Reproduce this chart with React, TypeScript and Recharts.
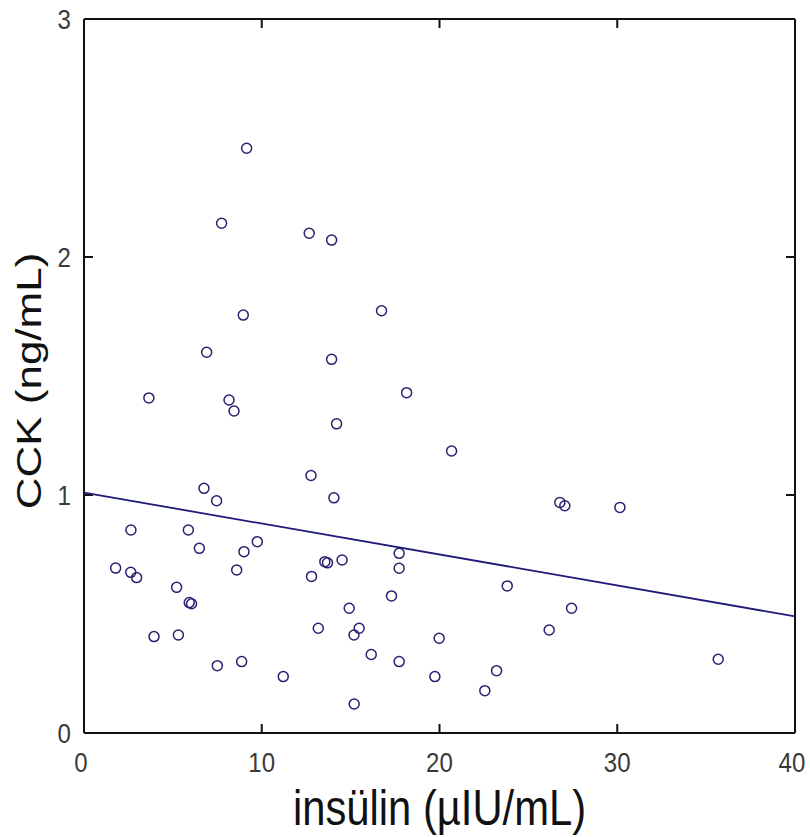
import React from 'react';
import { ScatterChart, Scatter, XAxis, YAxis, ReferenceLine } from 'recharts';

// insulin (x) and CCK (y) for each subject
const insulin = [
  9.15, 7.74, 12.67, 13.93, 8.96, 16.74, 6.9, 13.93, 3.65, 8.16,
  8.44, 18.15, 14.21, 20.68, 6.75, 7.46, 12.77, 14.06, 26.77, 27.05,
  30.15, 2.64, 5.87, 6.49, 9.75, 9.0, 8.59, 1.78, 2.63, 2.96,
  5.21, 5.92, 6.05, 13.55, 13.7, 14.52, 12.8, 17.73, 17.73, 17.3,
  23.81, 14.92, 27.43, 26.17, 13.18, 15.48, 15.19, 16.16, 3.94, 5.31,
  7.5, 8.87, 11.21, 15.2, 17.73, 19.98, 19.74, 23.21, 22.55, 35.68,
];
const cck = [
  2.457, 2.142, 2.1, 2.071, 1.756, 1.774, 1.6, 1.57, 1.408, 1.399,
  1.353, 1.43, 1.299, 1.185, 1.028, 0.976, 1.082, 0.988, 0.969, 0.955,
  0.948, 0.853, 0.853, 0.776, 0.804, 0.762, 0.685, 0.693, 0.675, 0.653,
  0.612, 0.548, 0.543, 0.72, 0.715, 0.727, 0.658, 0.755, 0.692, 0.576,
  0.618, 0.524, 0.524, 0.433, 0.44, 0.44, 0.412, 0.33, 0.405, 0.412,
  0.283, 0.3, 0.237, 0.122, 0.3, 0.398, 0.237, 0.262, 0.178, 0.31,
];

// regression line end points
const fitX = [0, 40];
const fitY = [1.01, 0.49];

const xTicks = [0, 10, 20, 30, 40];
const yTicks = [0, 1, 2, 3];

const W = 810;
const H = 837;
const M = { top: 19, right: 15, bottom: 104, left: 84 };
const PLOT_W = W - M.left - M.right;
const PLOT_H = H - M.top - M.bottom;
const TICK = 9;

const X0 = xTicks[0];
const X1 = xTicks[xTicks.length - 1];
const Y0 = yTicks[0];
const Y1 = yTicks[yTicks.length - 1];
// inward tick length in data units
const TX = (TICK * (X1 - X0)) / PLOT_W;
const TY = (TICK * (Y1 - Y0)) / PLOT_H;

const INK = '#2a2070';
const FONT = 'Liberation Sans, Arial, sans-serif';

const points = insulin.map((x, i) => ({ x, y: cck[i] }));

const Ring = (props: any) => {
  const { cx, cy } = props;
  return <circle cx={cx} cy={cy} r={5} fill="none" stroke={INK} strokeWidth={1.5} />;
};

const XTick = (props: any) => {
  const { x, y, payload } = props;
  const v = payload.value;
  return (
    <text
      transform={`translate(${x - (v === X1 || v === X0 ? 3 : 0)},${y + 39}) scale(0.86,1)`}
      textAnchor="middle"
      fontSize={28}
      fontFamily={FONT}
      fill="#3a3a3a"
    >
      {v}
    </text>
  );
};

const YTick = (props: any) => {
  const { x, y, payload } = props;
  return (
    <text
      transform={`translate(${x - 13},${y + 10}) scale(0.86,1)`}
      textAnchor="end"
      fontSize={28}
      fontFamily={FONT}
      fill="#3a3a3a"
    >
      {payload.value}
    </text>
  );
};

const frame = { stroke: '#111', strokeWidth: 2, ifOverflow: 'visible' as const };

const App: React.FC = () => {
  return (
    <div style={{ position: 'absolute', left: 0, top: 0, width: W, height: H, background: '#fff' }}>
      <ScatterChart width={W} height={H} margin={{ top: M.top, right: M.right, bottom: 0, left: 0 }}>
        <XAxis
          type="number"
          dataKey="x"
          domain={[X0, X1]}
          ticks={xTicks}
          interval={0}
          height={M.bottom}
          axisLine={false}
          tickLine={false}
          tickSize={0}
          tickMargin={0}
          tick={<XTick />}
        />
        <YAxis
          type="number"
          dataKey="y"
          domain={[Y0, Y1]}
          ticks={yTicks}
          interval={0}
          width={M.left}
          axisLine={false}
          tickLine={false}
          tickSize={0}
          tickMargin={0}
          tick={<YTick />}
        />
        <ReferenceLine x={X0} {...frame} />
        <ReferenceLine x={X1} {...frame} />
        <ReferenceLine y={Y0} {...frame} />
        <ReferenceLine y={Y1} {...frame} />
        {xTicks.slice(1, -1).map((t) => (
          <ReferenceLine key={`xb${t}`} segment={[{ x: t, y: Y0 }, { x: t, y: Y0 + TY }]} {...frame} />
        ))}
        {xTicks.slice(1, -1).map((t) => (
          <ReferenceLine key={`xt${t}`} segment={[{ x: t, y: Y1 }, { x: t, y: Y1 - TY }]} {...frame} />
        ))}
        {yTicks.slice(1, -1).map((t) => (
          <ReferenceLine key={`yl${t}`} segment={[{ x: X0, y: t }, { x: X0 + TX, y: t }]} {...frame} />
        ))}
        {yTicks.slice(1, -1).map((t) => (
          <ReferenceLine key={`yr${t}`} segment={[{ x: X1, y: t }, { x: X1 - TX, y: t }]} {...frame} />
        ))}
        <ReferenceLine
          segment={[{ x: fitX[0], y: fitY[0] }, { x: fitX[1], y: fitY[1] }]}
          stroke="#1e1a78"
          strokeWidth={1.8}
          ifOverflow="visible"
        />
        <Scatter data={points} shape={<Ring />} isAnimationActive={false} />
      </ScatterChart>
      <svg width={W} height={H} style={{ position: 'absolute', left: 0, top: 0, pointerEvents: 'none' }}>
        <text
          transform={`translate(${M.left + PLOT_W / 2},825) scale(0.835,1)`}
          textAnchor="middle"
          fontSize={50}
          fontFamily={FONT}
          fill="#111"
        >
          insülin (µIU/mL)
        </text>
        <text
          transform={`translate(41,${M.top + 362}) scale(0.8,1) rotate(-90)`}
          textAnchor="middle"
          fontSize={44}
          fontFamily={FONT}
          fill="#111"
        >
          CCK (ng/mL)
        </text>
      </svg>
    </div>
  );
};

export default App;
